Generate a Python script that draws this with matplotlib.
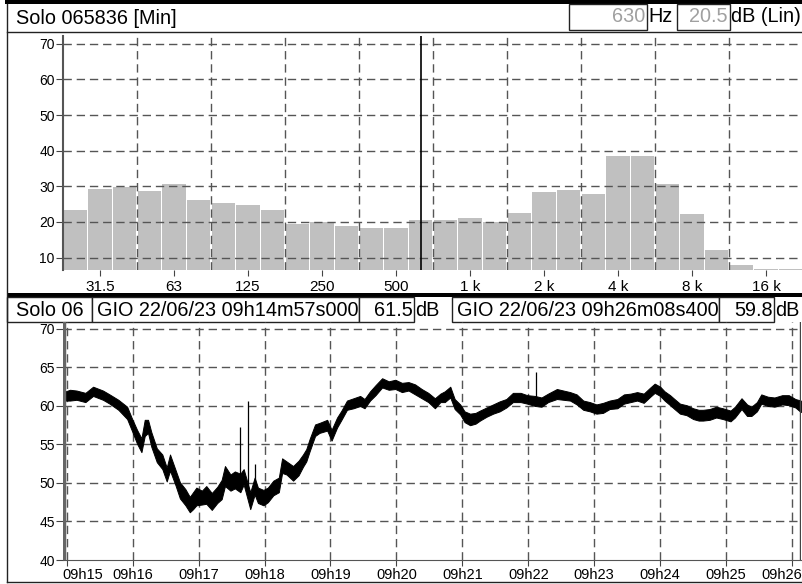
import numpy as np
import matplotlib.pyplot as plt
import matplotlib.transforms as mtransforms
from matplotlib.patches import Rectangle

plt.rcParams['font.family'] = ['Liberation Sans', 'DejaVu Sans']

# ---- spectrum (1/3 octave, Min) ----
bands = ['25', '31.5', '40', '50', '63', '80', '100', '125', '160', '200',
         '250', '315', '400', '500', '630', '800', '1k', '1.25k', '1.6k', '2k',
         '2.5k', '3.15k', '4k', '5k', '6.3k', '8k', '10k', '12.5k', '16k', '20k']
band_db = [23.3, 29.3, 29.9, 28.6, 30.6, 26.1, 25.2, 24.7, 23.3, 19.3,
           20.0, 18.8, 18.2, 18.2, 20.5, 20.6, 21.2, 19.9, 22.6, 28.5,
           29.1, 27.8, 38.5, 38.5, 30.7, 22.3, 12.2, 8.0, 6.9, 6.8]
band_ticks = ['31.5', '63', '125', '250', '500', '1k', '2k', '4k', '8k', '16k']
band_tick_labels = ['31.5', '63', '125', '250', '500', '1 k', '2 k', '4 k', '8 k', '16 k']
cursor_band = '630'

# ---- time history, seconds after 09h14m57s ----
elapsed = [0, 6, 12, 20, 27, 36, 42, 50, 58, 62,
           67, 71, 74, 77, 80, 85, 90, 94, 97, 102,
           106, 111, 115, 118, 121, 126, 130, 135, 140, 144,
           147, 152, 156, 161, 164, 170, 174, 177, 182, 186,
           191, 196, 199, 203, 209, 214, 218, 221, 224, 229,
           233, 240, 244, 249, 253, 258, 264, 270, 274, 279,
           284, 290, 296, 302, 308, 314, 320, 326, 332, 338,
           343, 347, 352, 356, 361, 365, 370, 375, 379, 385,
           391, 397, 403, 409, 416, 422, 429, 435, 441, 449,
           455, 461, 467, 473, 479, 485, 491, 497, 504, 510,
           516, 522, 528, 534, 538, 543, 547, 552, 556, 561,
           567, 573, 578, 582, 588, 594, 600, 607, 611, 617,
           622, 626, 631, 635, 641, 647, 654, 660, 666, 671]
level = [61.2, 61.3, 61.5, 61.0, 61.9, 61.5, 60.8, 60.2, 59.1, 57.6,
         56.1, 54.8, 57.2, 57.4, 55.5, 53.8, 52.7, 51.2, 52.5, 50.8,
         49.1, 48.0, 47.4, 47.6, 48.4, 48.2, 48.4, 47.8, 48.4, 49.1,
         50.8, 50.1, 50.3, 50.1, 50.8, 47.8, 49.5, 48.6, 48.0, 48.6,
         49.3, 49.9, 52.1, 52.1, 51.2, 52.1, 52.9, 53.5, 55.0, 56.8,
         57.2, 57.4, 56.3, 57.8, 58.9, 60.0, 60.4, 60.6, 60.4, 61.2,
         62.1, 62.9, 62.7, 62.7, 62.5, 62.5, 62.1, 61.7, 61.0, 60.4,
         61.0, 61.2, 61.7, 60.4, 59.5, 58.7, 58.2, 58.5, 58.7, 59.3,
         59.5, 60.0, 60.4, 61.0, 61.2, 60.8, 60.6, 60.6, 61.0, 61.5,
         61.5, 61.2, 60.8, 60.2, 59.8, 59.7, 59.7, 60.1, 60.4, 60.8,
         61.1, 61.2, 61.1, 61.7, 62.3, 62.0, 61.2, 60.8, 60.2, 59.7,
         59.4, 59.1, 58.7, 58.9, 58.9, 59.1, 59.1, 58.7, 59.3, 60.2,
         59.5, 59.3, 60.0, 60.8, 60.6, 60.6, 60.7, 60.8, 60.4, 60.0]
# how far the noisy trace reaches above / below the level at each reading
upper = [0.6, 0.8, 0.5, 0.7, 0.6, 0.5, 0.7, 0.6, 0.8, 0.9,
         0.8, 1.0, 1.0, 0.8, 1.1, 0.7, 1.0, 0.8, 1.2, 0.9,
         1.0, 1.2, 0.8, 1.2, 1.0, 0.8, 1.2, 0.9, 1.1, 1.3,
         1.4, 1.0, 1.2, 1.1, 1.0, 1.0, 1.2, 0.8, 1.1, 0.8,
         1.0, 0.8, 1.1, 0.7, 1.0, 0.8, 0.8, 0.9, 0.7, 0.8,
         0.6, 0.8, 0.6, 0.7, 0.5, 0.7, 0.6, 0.7, 0.5, 0.7,
         0.6, 0.7, 0.5, 0.7, 0.5, 0.6, 0.7, 0.5, 0.7, 0.6,
         0.6, 0.7, 0.8, 0.5, 0.7, 0.6, 0.8, 0.6, 0.7, 0.5,
         0.7, 0.6, 0.5, 0.7, 0.5, 0.6, 0.7, 0.5, 0.6, 0.7,
         0.5, 0.6, 0.7, 0.5, 0.7, 0.5, 0.7, 0.6, 0.5, 0.7,
         0.5, 0.6, 0.5, 0.7, 0.6, 0.5, 0.7, 0.6, 0.7, 0.6,
         0.7, 0.6, 0.8, 0.6, 0.7, 0.8, 0.6, 0.7, 0.6, 0.8,
         0.7, 0.6, 0.5, 0.7, 0.6, 0.5, 0.7, 0.6, 0.5, 0.7]
lower = [0.5, 0.6, 0.7, 0.5, 0.6, 0.7, 0.5, 0.7, 0.8, 0.7,
         1.0, 0.8, 1.1, 0.9, 0.8, 1.1, 0.9, 1.0, 0.9, 1.1,
         1.1, 0.9, 1.2, 1.0, 1.3, 1.0, 1.1, 1.3, 1.0, 1.2,
         1.2, 1.1, 1.0, 1.3, 1.0, 1.2, 1.0, 1.2, 0.9, 1.1,
         0.9, 1.1, 0.8, 1.0, 0.9, 1.1, 0.8, 0.7, 0.9, 0.7,
         0.7, 0.6, 0.8, 0.6, 0.7, 0.5, 0.7, 0.6, 0.7, 0.5,
         0.7, 0.5, 0.6, 0.5, 0.7, 0.5, 0.6, 0.7, 0.5, 0.7,
         0.5, 0.7, 0.6, 0.8, 0.6, 0.8, 0.7, 0.8, 0.6, 0.7,
         0.5, 0.7, 0.6, 0.5, 0.7, 0.5, 0.6, 0.7, 0.5, 0.6,
         0.7, 0.5, 0.6, 0.7, 0.5, 0.7, 0.6, 0.5, 0.7, 0.5,
         0.6, 0.5, 0.7, 0.5, 0.6, 0.7, 0.5, 0.7, 0.6, 0.7,
         0.6, 0.8, 0.6, 0.8, 0.7, 0.6, 0.8, 0.7, 0.8, 0.6,
         0.8, 0.6, 0.7, 0.5, 0.6, 0.7, 0.5, 0.7, 0.6, 0.8]
# single-sample peaks: (elapsed, from, to)
spike_t = [161, 168, 174, 430]
spike_lo = [50.0, 48.5, 48.5, 60.6]
spike_hi = [57.3, 60.6, 52.5, 64.4]
duration = 671.4
minute_ticks = list(range(15, 27))
minute_labels = ['09h%02d' % m for m in minute_ticks]

W, H = 803, 584
fig = plt.figure(figsize=(W / 100, H / 100), dpi=100)
fig.patch.set_facecolor('white')


def box_axes(x0, y0, x1, y1):
    # pixel box, origin top-left
    return fig.add_axes([x0 / W, 1 - y1 / H, (x1 - x0) / W, (y1 - y0) / H])


ov = fig.add_axes([0, 0, 1, 1], zorder=0)
ov.set_xlim(0, W)
ov.set_ylim(H, 0)
ov.axis('off')


def frame(x0, y0, x1, y1):
    ov.add_patch(Rectangle((x0, y0), x1 - x0, y1 - y0, fc='white', ec='#222222', lw=1))


# outer frame
ov.add_patch(Rectangle((5, 0), W - 5, 4, fc='black', ec='none'))
ov.plot([7, 7], [4, 582], color='#222222', lw=1)
ov.plot([7, W], [582, 582], color='#222222', lw=1)
ov.plot([7, W], [32, 32], color='#222222', lw=1)

# top header
hfs = 14.3
ov.text(16, 18, 'Solo 065836 [Min]', fontsize=hfs, va='center', ha='left')
frame(569, 4, 647, 30)
ov.text(645, 17, '630', fontsize=hfs, va='center', ha='right', color='#a0a0a0')
ov.text(648, 17, 'Hz', fontsize=hfs, va='center', ha='left')
frame(677, 4, 730, 30)
ov.text(728, 17, '20.5', fontsize=hfs, va='center', ha='right', color='#a0a0a0')
ov.text(731, 17, 'dB (Lin)', fontsize=hfs, va='center', ha='left')

# bottom header
ov.add_patch(Rectangle((7, 293), W - 7, 3.5, fc='black', ec='none'))
frame(7, 297, 92, 322)
ov.text(16, 310, 'Solo 06', fontsize=hfs, va='center', ha='left')
frame(92, 297, 359, 322)
ov.text(97, 310, 'GIO 22/06/23 09h14m57s000', fontsize=hfs, va='center', ha='left')
frame(359, 297, 414, 322)
ov.text(413, 310, '61.5', fontsize=hfs, va='center', ha='right')
ov.text(415, 310, 'dB', fontsize=hfs, va='center', ha='left')
frame(452, 297, 719, 322)
ov.text(457, 310, 'GIO 22/06/23 09h26m08s400', fontsize=hfs, va='center', ha='left')
frame(719, 297, 774, 322)
ov.text(773, 310, '59.8', fontsize=hfs, va='center', ha='right')
ov.text(775, 310, 'dB', fontsize=hfs, va='center', ha='left')

grid_kw = dict(color='#555555', lw=1.0, linestyle=(0, (6, 3.5)), zorder=3)

# ---- spectrum panel ----
ax1 = box_axes(63, 36, W, 270)
ax1.set_facecolor('none')
xi = np.arange(len(bands))
ax1.bar(xi, band_db, width=0.94, color='#c0c0c0', zorder=1)
ax1.set_xlim(-0.5, len(bands) - 0.5)
ax1.set_ylim(6.5, 72.2)
for y in range(10, 71, 10):
    ax1.axhline(y, **grid_kw)
for b in np.arange(2.5, len(bands) - 1, 3):
    ax1.axvline(b, **grid_kw)
ax1.axvline(bands.index(cursor_band), color='black', lw=1.2, zorder=4)
ax1.set_yticks(range(10, 71, 10))
ax1.set_xticks([bands.index(b) for b in band_ticks])
ax1.set_xticklabels(band_tick_labels)
for s in ['top', 'right', 'bottom']:
    ax1.spines[s].set_visible(False)
ax1.spines['left'].set_color('#555555')
ax1.spines['left'].set_linewidth(1.5)
ax1.tick_params(axis='x', length=4, color='#444444', labelsize=11, pad=3)
ax1.tick_params(axis='y', length=5, color='#444444', labelsize=10, pad=1)

# ---- time history panel ----
ax2 = box_axes(63.4, 322, 801.3, 560)
ax2.set_facecolor('none')
t0 = 14 + 57 / 60
tx = t0 + np.array(elapsed) / 60
lv = np.array(level)
ax2.fill_between(tx, lv - np.array(lower), lv + np.array(upper),
                 facecolor='black', edgecolor='black', lw=0.7, zorder=5)
ax2.vlines(t0 + np.array(spike_t) / 60, spike_lo, spike_hi, color='black', lw=0.9, zorder=5)
ax2.set_xlim(t0, t0 + duration / 60)
ax2.set_ylim(40, 70.9)
for y in range(45, 71, 5):
    ax2.axhline(y, **grid_kw)
for m in minute_ticks:
    ax2.axvline(m, **grid_kw)
ax2.axvline(t0 + 0.3 / 60, color='#666666', lw=2.5, zorder=6)
ax2.axvline(t0 + 670.5 / 60, color='#444444', lw=1.0, zorder=6)
ax2.set_yticks(range(40, 71, 5))
ax2.set_xticks(minute_ticks)
ax2.set_xticklabels(minute_labels)
for s in ['top', 'right', 'left']:
    ax2.spines[s].set_visible(False)
ax2.spines['bottom'].set_color('#555555')
ax2.tick_params(axis='x', length=4, color='#444444', labelsize=10.5, pad=2)
ax2.tick_params(axis='y', length=5, color='#444444', labelsize=10, pad=1)
ticks = ax2.xaxis.get_major_ticks()
ticks[0].label1.set_ha('left')
ticks[0].label1.set_transform(ticks[0].label1.get_transform()
                              + mtransforms.ScaledTranslation(-0.04, 0, fig.dpi_scale_trans))
ticks[-1].label1.set_ha('right')
ticks[-1].label1.set_transform(ticks[-1].label1.get_transform()
                               + mtransforms.ScaledTranslation(0.10, 0, fig.dpi_scale_trans))

fig.savefig('out.png', dpi=100)
